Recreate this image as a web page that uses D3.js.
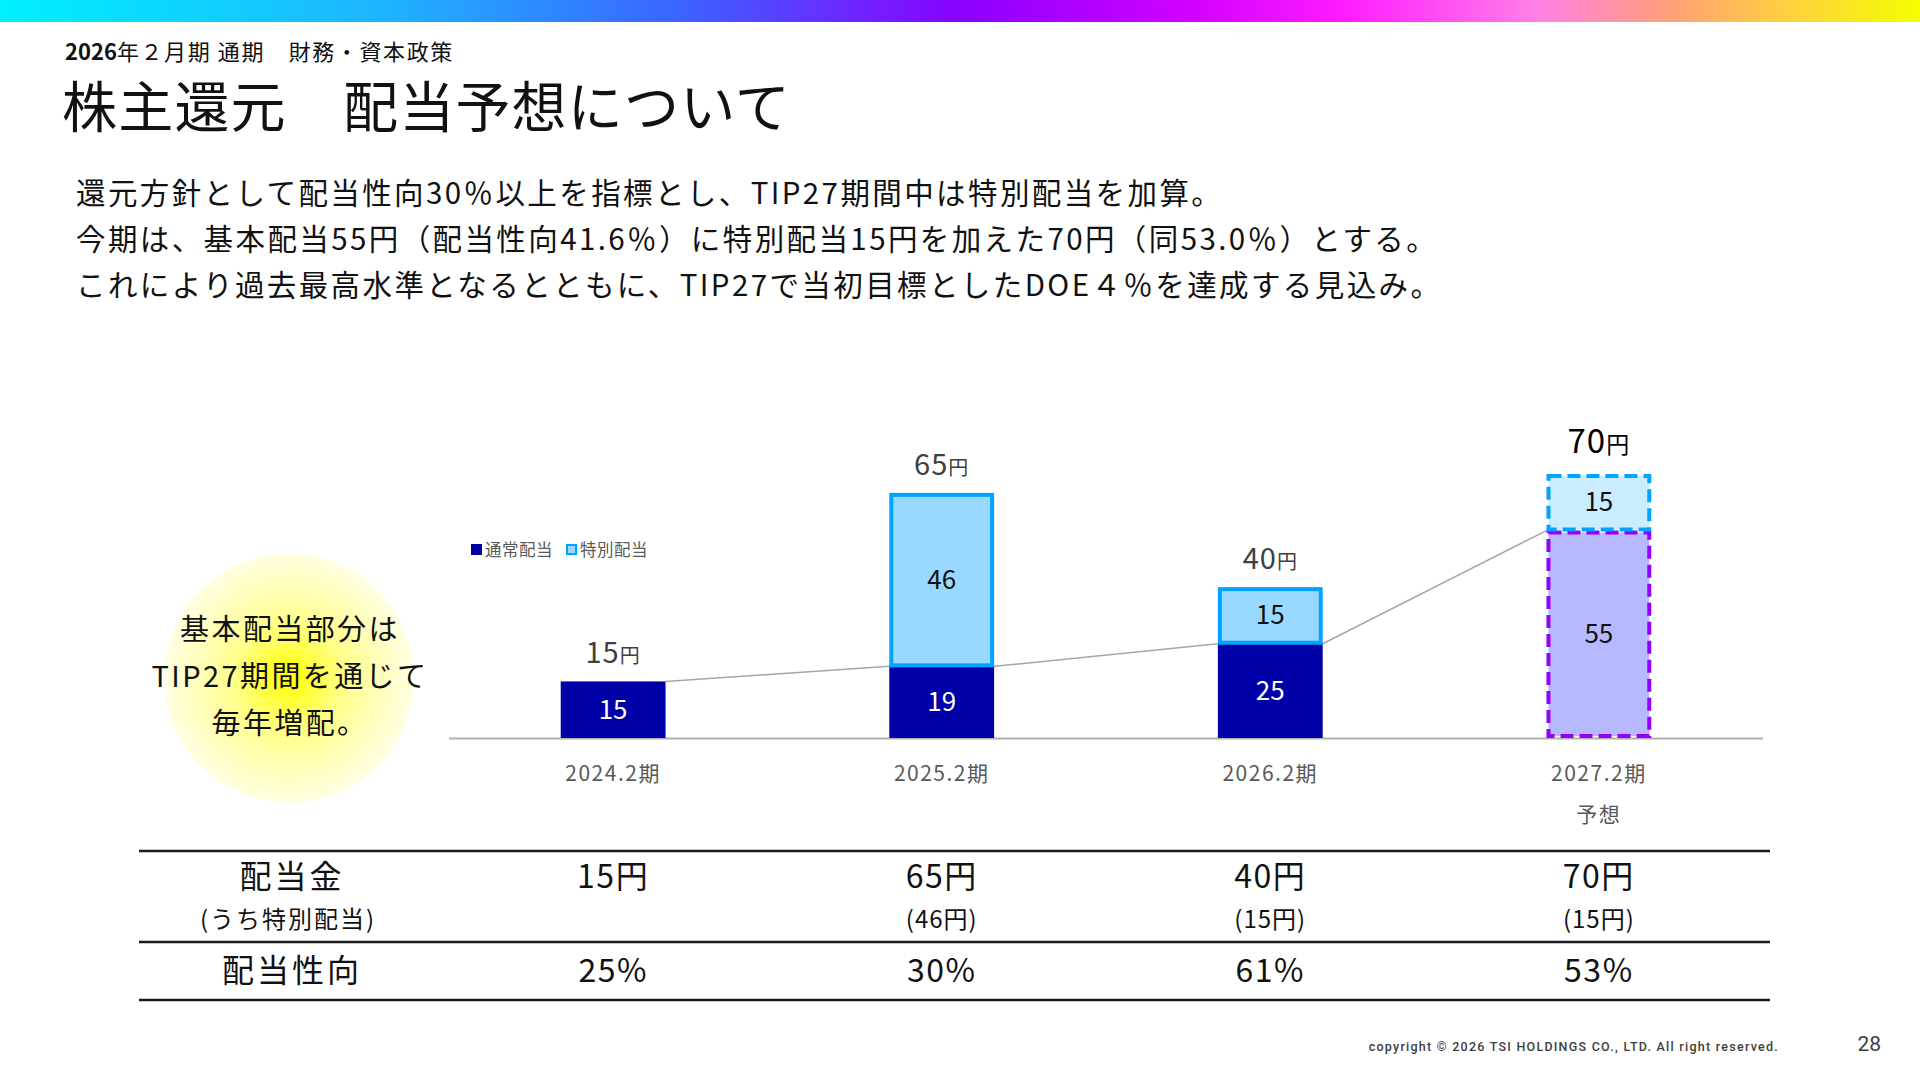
<!DOCTYPE html>
<html>
<head>
<meta charset="utf-8">
<script src="https://cdn.jsdelivr.net/npm/d3@7/dist/d3.min.js"></script>
<style>
  body { margin: 0; background: #fff; }
  svg text { font-family: "Noto Sans CJK JP", "Noto Sans", sans-serif; }
</style>
</head>
<body>
<script>
// chart data
var categories = ["2024.2期", "2025.2期", "2026.2期", "2027.2期"];
var subLabels = ["", "", "", "予想"];
var normalDiv = [15, 19, 25, 55];
var specialDiv = [0, 46, 15, 15];
var totalDiv = [15, 65, 40, 70];
var isForecast = [false, false, false, true];
var payoutRatio = ["25%", "30%", "61%", "53%"];
var legendNames = ["通常配当", "特別配当"];

var bodyLines = [
  "還元方針として配当性向30％以上を指標とし、TIP27期間中は特別配当を加算。",
  "今期は、基本配当55円（配当性向41.6％）に特別配当15円を加えた70円（同53.0％）とする。",
  "これにより過去最高水準となるとともに、TIP27で当初目標としたDOE４％を達成する見込み。"
];
var bubbleLines = ["基本配当部分は", "TIP27期間を通じて", "毎年増配。"];

var w = 1920, h = 1080;

var svg = d3.select("body").append("svg")
    .attr("width", w)
    .attr("height", h);

var defs = svg.append("defs");

// top rainbow band
var topGrad = defs.append("linearGradient").attr("id", "topGrad");
[[0, "#00f0ff"], [0.2, "#1eb4ff"], [0.35, "#3a66ff"], [0.5, "#8a00ff"],
 [0.62, "#d200ff"], [0.7, "#ff1cff"], [0.8, "#ff80e6"], [0.87, "#ffa078"],
 [0.93, "#ffd040"], [1, "#f2ff00"]].forEach(function(s){
  topGrad.append("stop").attr("offset", s[0]).attr("stop-color", s[1]);
});
svg.append("rect").attr("x", 0).attr("y", 0).attr("width", w).attr("height", 22)
    .attr("fill", "url(#topGrad)");

// yellow bubble
var bubGrad = defs.append("radialGradient").attr("id", "bubGrad");
bubGrad.append("stop").attr("offset", 0).attr("stop-color", "#ffff00");
bubGrad.append("stop").attr("offset", 0.45).attr("stop-color", "#ffff8c");
bubGrad.append("stop").attr("offset", 1).attr("stop-color", "#fffee4");

// header texts
var sub = svg.append("text").attr("x", 65).attr("y", 60)
    .attr("font-size", 22).attr("letter-spacing", 1.6).attr("fill", "#111");
sub.append("tspan").attr("font-weight", 700).attr("letter-spacing", 0).text("2026");
sub.append("tspan").text("年２月期 通期　財務・資本政策");

svg.append("text").attr("x", 62).attr("y", 127)
    .attr("font-size", 55).attr("letter-spacing", 1.2).attr("fill", "#111")
    .text("株主還元　配当予想について");

svg.selectAll("text.body")
    .data(bodyLines)
    .enter()
    .append("text")
    .attr("class", "body")
    .attr("x", 76)
    .attr("y", function(d, i){ return 204 + i * 46; })
    .attr("font-size", 29.5)
    .attr("letter-spacing", 2.4)
    .attr("fill", "#111")
    .text(function(d){ return d; });

// scales
var x = d3.scaleBand().domain(categories).range([449, 1763])
    .paddingInner(0.681).paddingOuter(0.34);
var y = d3.scaleLinear().domain([0, 70]).range([738, 474]);
var bw = x.bandwidth();

var rows = categories.map(function(c, i){
  return { cat: c, normal: normalDiv[i], special: specialDiv[i],
           total: totalDiv[i], forecast: isForecast[i], sub: subLabels[i] };
});

// bubble
svg.append("circle").attr("cx", 289).attr("cy", 678).attr("r", 125)
    .attr("fill", "url(#bubGrad)");
svg.selectAll("text.bub")
    .data(bubbleLines)
    .enter()
    .append("text")
    .attr("class", "bub")
    .attr("x", 290)
    .attr("y", function(d, i){ return 640 + i * 47; })
    .attr("text-anchor", "middle")
    .attr("font-size", 29)
    .attr("letter-spacing", 2.4)
    .attr("fill", "#111")
    .text(function(d){ return d; });

// connector of the basic dividend
var conn = [];
rows.forEach(function(d, i){
  if (i > 0) conn.push([x(rows[i - 1].cat) + bw, y(rows[i - 1].normal), x(d.cat), y(d.normal)]);
});
svg.selectAll("line.conn")
    .data(conn)
    .enter()
    .append("line")
    .attr("class", "conn")
    .attr("x1", function(d){ return d[0]; })
    .attr("y1", function(d){ return d[1]; })
    .attr("x2", function(d){ return d[2]; })
    .attr("y2", function(d){ return d[3]; })
    .attr("stroke", "#a6a6a6")
    .attr("stroke-width", 1.5);

// axis line
svg.append("line").attr("x1", 449).attr("x2", 1763).attr("y1", y(0) + 0.5).attr("y2", y(0) + 0.5)
    .attr("stroke", "#b0b0b0").attr("stroke-width", 2);

// normal bars
svg.selectAll("rect.normal")
    .data(rows)
    .enter()
    .append("rect")
    .attr("class", "normal")
    .attr("x", function(d){ return x(d.cat) + (d.forecast ? 2 : 0); })
    .attr("y", function(d){ return y(d.normal) + (d.forecast ? 2 : 0); })
    .attr("width", function(d){ return bw - (d.forecast ? 4 : 0); })
    .attr("height", function(d){ return y(0) - y(d.normal) - (d.forecast ? 4 : 0); })
    .attr("fill", function(d){ return d.forecast ? "#b8b8ff" : "#0000a8"; })
    .attr("stroke", function(d){ return d.forecast ? "#9400ff" : "none"; })
    .attr("stroke-width", 4)
    .attr("stroke-dasharray", function(d){ return d.forecast ? "13,6" : null; });

// special bars
svg.selectAll("rect.special")
    .data(rows.filter(function(d){ return d.special > 0; }))
    .enter()
    .append("rect")
    .attr("class", "special")
    .attr("x", function(d){ return x(d.cat) + 2; })
    .attr("y", function(d){ return y(d.total) + 2; })
    .attr("width", bw - 4)
    .attr("height", function(d){ return y(d.normal) - y(d.total) - 3; })
    .attr("fill", function(d){ return d.forecast ? "#c9ecff" : "#99d9ff"; })
    .attr("stroke", "#00a4ff")
    .attr("stroke-width", 4)
    .attr("stroke-dasharray", function(d){ return d.forecast ? "13,6" : null; });

// value labels inside bars
svg.selectAll("text.nlab")
    .data(rows)
    .enter()
    .append("text")
    .attr("class", "nlab")
    .attr("x", function(d){ return x(d.cat) + bw / 2; })
    .attr("y", function(d){ return (y(0) + y(d.normal)) / 2 + 9; })
    .attr("text-anchor", "middle")
    .attr("font-size", 26)
    .attr("fill", function(d){ return d.forecast ? "#111" : "#fff"; })
    .text(function(d){ return d.normal; });

svg.selectAll("text.slab")
    .data(rows.filter(function(d){ return d.special > 0; }))
    .enter()
    .append("text")
    .attr("class", "slab")
    .attr("x", function(d){ return x(d.cat) + bw / 2; })
    .attr("y", function(d){ return (y(d.normal) + y(d.total)) / 2 + 9; })
    .attr("text-anchor", "middle")
    .attr("font-size", 26)
    .attr("fill", "#111")
    .text(function(d){ return d.special; });

// totals above bars
var tot = svg.selectAll("text.tot")
    .data(rows)
    .enter()
    .append("text")
    .attr("class", "tot")
    .attr("x", function(d){ return x(d.cat) + bw / 2; })
    .attr("y", function(d){ return y(d.total) - (d.forecast ? 21 : 18); })
    .attr("text-anchor", "middle")
    .attr("letter-spacing", 1)
    .attr("fill", function(d){ return d.forecast ? "#000" : "#404040"; });
tot.append("tspan")
    .attr("font-size", function(d){ return d.forecast ? 33 : 29; })
    .text(function(d){ return d.total; });
tot.append("tspan")
    .attr("font-size", function(d){ return d.forecast ? 23 : 20; })
    .text("円");

// category labels
svg.selectAll("text.cat")
    .data(rows)
    .enter()
    .append("text")
    .attr("class", "cat")
    .attr("x", function(d){ return x(d.cat) + bw / 2; })
    .attr("y", 781)
    .attr("text-anchor", "middle")
    .attr("font-size", 21)
    .attr("letter-spacing", 1.5)
    .attr("fill", "#595959")
    .text(function(d){ return d.cat; });
svg.selectAll("text.catsub")
    .data(rows.filter(function(d){ return d.sub; }))
    .enter()
    .append("text")
    .attr("class", "catsub")
    .attr("x", function(d){ return x(d.cat) + bw / 2; })
    .attr("y", 822)
    .attr("text-anchor", "middle")
    .attr("font-size", 21)
    .attr("letter-spacing", 1.5)
    .attr("fill", "#595959")
    .text(function(d){ return d.sub; });

// legend
var legColors = [["#0000a8", "#0000a8"], ["#99d9ff", "#00a4ff"]];
var leg = svg.selectAll("g.leg")
    .data(legendNames)
    .enter()
    .append("g")
    .attr("class", "leg")
    .attr("transform", function(d, i){ return "translate(" + (471 + i * 95) + ",550)"; });
leg.append("rect")
    .attr("x", 1).attr("y", -5).attr("width", 9).attr("height", 9)
    .attr("fill", function(d, i){ return legColors[i][0]; })
    .attr("stroke", function(d, i){ return legColors[i][1]; })
    .attr("stroke-width", 2);
leg.append("text")
    .attr("x", 14).attr("y", 6)
    .attr("font-size", 16.5)
    .attr("letter-spacing", 0.5)
    .attr("fill", "#595959")
    .text(function(d){ return d; });

// table
[851, 942, 1000].forEach(function(ly){
  svg.append("line").attr("x1", 139).attr("x2", 1770).attr("y1", ly).attr("y2", ly)
      .attr("stroke", "#1a1a1a").attr("stroke-width", 2.5);
});
svg.append("text").attr("x", 292).attr("y", 888).attr("text-anchor", "middle")
    .attr("font-size", 32).attr("letter-spacing", 3).attr("fill", "#111").text("配当金");
svg.append("text").attr("x", 288).attr("y", 928).attr("text-anchor", "middle")
    .attr("font-size", 24).attr("letter-spacing", 2).attr("fill", "#111").text("(うち特別配当)");
svg.append("text").attr("x", 292).attr("y", 982).attr("text-anchor", "middle")
    .attr("font-size", 32).attr("letter-spacing", 3).attr("fill", "#111").text("配当性向");

svg.selectAll("text.tabTot")
    .data(rows)
    .enter()
    .append("text")
    .attr("class", "tabTot")
    .attr("x", function(d){ return x(d.cat) + bw / 2; })
    .attr("y", 888)
    .attr("text-anchor", "middle")
    .attr("font-size", 32)
    .attr("letter-spacing", 1.5)
    .attr("fill", "#111")
    .text(function(d){ return d.total + "円"; });
svg.selectAll("text.tabSp")
    .data(rows.filter(function(d){ return d.special > 0; }))
    .enter()
    .append("text")
    .attr("class", "tabSp")
    .attr("x", function(d){ return x(d.cat) + bw / 2; })
    .attr("y", 928)
    .attr("text-anchor", "middle")
    .attr("font-size", 24)
    .attr("letter-spacing", 1)
    .attr("fill", "#111")
    .text(function(d){ return "(" + d.special + "円)"; });
svg.selectAll("text.tabPay")
    .data(payoutRatio)
    .enter()
    .append("text")
    .attr("class", "tabPay")
    .attr("x", function(d, i){ return x(categories[i]) + bw / 2; })
    .attr("y", 982)
    .attr("text-anchor", "middle")
    .attr("font-size", 32)
    .attr("letter-spacing", 1.5)
    .attr("fill", "#111")
    .text(function(d){ return d; });

// footer
svg.append("text").attr("x", 1779).attr("y", 1051).attr("text-anchor", "end")
    .style("font-family", "Roboto, sans-serif")
    .attr("font-size", 12.5).attr("font-weight", 500).attr("letter-spacing", 1.25)
    .attr("fill", "#404040")
    .text("copyright © 2026 TSI HOLDINGS CO., LTD. All right reserved.");
svg.append("text").attr("x", 1881).attr("y", 1051).attr("text-anchor", "end")
    .style("font-family", "Roboto, sans-serif")
    .attr("font-size", 21).attr("fill", "#404040")
    .text("28");
</script>
</body>
</html>
